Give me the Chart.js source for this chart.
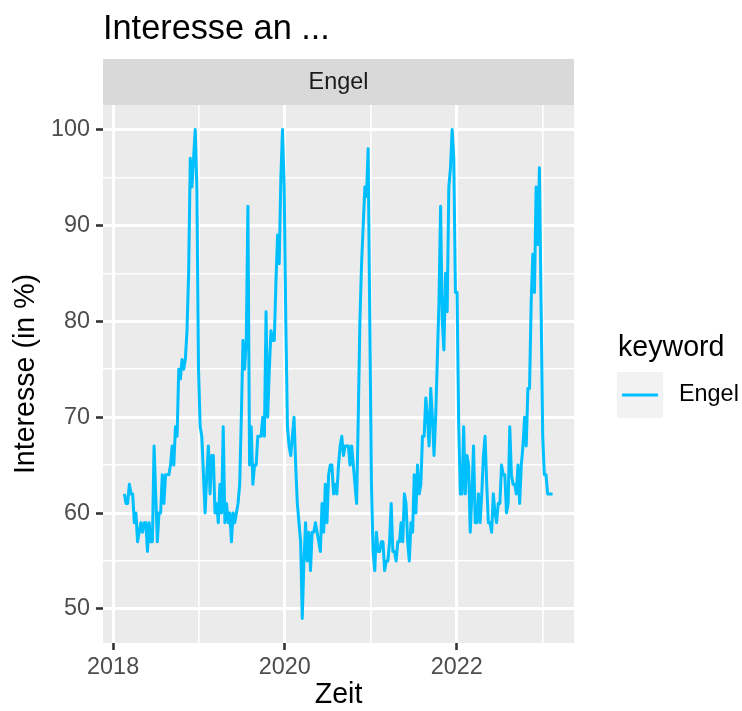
<!DOCTYPE html>
<html>
<head>
<meta charset="utf-8">
<title>Interesse an ...</title>
<script src="https://cdn.jsdelivr.net/npm/chart.js@4.4.0/dist/chart.umd.min.js"></script>
<style>
  html, body { margin: 0; padding: 0; background: #ffffff; }
  canvas { display: block; }
</style>
</head>
<body>
<canvas id="trend-chart" width="742" height="711"></canvas>
<script>
// ------------------------------------------------------
// @Data
// ------------------------------------------------------

const KEYWORD = 'Engel';
const START_DATE = '2018-02-18'; // first weekly value, one value per week after that

const INTEREST = [
  62, 61, 61, 63, 62, 62, 59, 60, 57, 58,
  59, 58, 59, 59, 56, 59, 57, 57, 67, 62,
  57, 60, 60, 64, 61, 64, 64, 64, 65, 67,
  65, 69, 68, 75, 74, 76, 75, 76, 79, 85,
  97, 94, 97, 100, 94, 75, 69, 68, 64, 60,
  64, 67, 62, 66, 66, 60, 61, 59, 63, 60,
  69, 59, 61, 59, 60, 57, 60, 59, 60, 61,
  63, 70, 78, 75, 78, 92, 65, 69, 63, 65,
  65, 68, 68, 68, 70, 68, 81, 70, 75, 79,
  78, 78, 84, 89, 86, 95, 100, 94, 80, 69,
  67, 66, 68, 70, 65, 61, 59, 57, 49, 55,
  59, 55, 58, 54, 58, 58, 59, 58, 57, 56,
  61, 58, 63, 59, 64, 65, 65, 62, 63, 62,
  65, 67, 68, 66, 67, 67, 67, 65, 67, 65,
  63, 61, 70, 80, 86, 90, 94, 93, 98, 80,
  63, 56, 54, 58, 56, 56, 57, 57, 54, 55,
  55, 57, 61, 56, 56, 55, 57, 57, 59, 57,
  62, 61, 57, 55, 59, 58, 64, 60, 65, 62,
  63, 68, 68, 72, 70, 67, 73, 70, 66, 70,
  76, 82, 92, 80, 77, 85, 81, 94, 96, 100,
  97, 83, 83, 69, 62, 62, 69, 62, 66, 65,
  58, 62, 67, 59, 59, 62, 59, 62, 66, 68,
  63, 59, 59, 58, 62, 60, 59, 61, 61, 65,
  64, 64, 60, 61, 69, 64, 63, 63, 62, 65,
  61, 65, 67, 70, 67, 73, 73, 82, 87, 83,
  94, 88, 96, 82, 68, 64, 64, 62, 62, 62,
  62,
];

const YEAR_TICKS = [2018, 2019, 2020, 2021, 2022, 2023];
const YEAR_LABELS = ['2018', '', '2020', '', '2022', ''];
const VALUE_TICKS = [50, 55, 60, 65, 70, 75, 80, 85, 90, 95, 100];
const VALUE_LABELS = ['50', '', '60', '', '70', '', '80', '', '90', '', '100'];

// ------------------------------------------------------
// @Helpers
// ------------------------------------------------------

const DAY = 86400000;
const FONT = "'Liberation Sans', Arial, Helvetica, sans-serif";
const LINE_COLOR = '#00BFFF';

const dayOf = (iso) => Date.parse(iso + 'T00:00:00Z') / DAY;
const yearStart = (year) => Date.UTC(year, 0, 1) / DAY;

const firstDay = dayOf(START_DATE);
const points = INTEREST.map((v, i) => ({ x: firstDay + 7 * i, y: v }));

// ggplot style 5% expansion on both scales
const lastDay = points[points.length - 1].x;
const xPad = (lastDay - firstDay) * 0.05;
const yLo = Math.min(...INTEREST);
const yHi = Math.max(...INTEREST);
const yPad = (yHi - yLo) * 0.05;

const isMajor = (labels, ctx) => ctx.tick && labels[ctx.index] !== '';

// ------------------------------------------------------
// @Panel, strip, title and legend
// ------------------------------------------------------

const ggFrame = {
  id: 'ggFrame',
  beforeDraw(chart) {
    const { ctx, chartArea: a } = chart;
    ctx.save();

    // panel background
    ctx.fillStyle = '#EBEBEB';
    ctx.fillRect(a.left, a.top, a.right - a.left, a.bottom - a.top);

    // facet strip
    ctx.fillStyle = '#D9D9D9';
    ctx.fillRect(a.left, 59, a.right - a.left, a.top - 59);
    ctx.fillStyle = '#1A1A1A';
    ctx.font = '23.4px ' + FONT;
    ctx.textAlign = 'center';
    ctx.textBaseline = 'middle';
    ctx.fillText(KEYWORD, (a.left + a.right) / 2, 82.5);

    // plot title
    ctx.fillStyle = '#000000';
    ctx.font = '34.3px ' + FONT;
    ctx.textAlign = 'left';
    ctx.textBaseline = 'alphabetic';
    ctx.fillText('Interesse an ...', a.left, 39);

    ctx.restore();
  },
  afterDraw(chart) {
    const { ctx } = chart;
    ctx.save();

    ctx.fillStyle = '#000000';
    ctx.font = '28.6px ' + FONT;
    ctx.textAlign = 'left';
    ctx.textBaseline = 'alphabetic';
    ctx.fillText('keyword', 618, 356);

    ctx.fillStyle = '#F2F2F2';
    ctx.fillRect(617, 372, 46, 46);

    ctx.strokeStyle = LINE_COLOR;
    ctx.lineWidth = 3;
    ctx.beginPath();
    ctx.moveTo(622, 395);
    ctx.lineTo(658, 395);
    ctx.stroke();

    ctx.fillStyle = '#000000';
    ctx.font = '23.4px ' + FONT;
    ctx.textBaseline = 'middle';
    ctx.fillText(KEYWORD, 679, 395);

    ctx.restore();
  },
};

// ------------------------------------------------------
// @Line Chart
// ------------------------------------------------------

const trendBox = document.getElementById('trend-chart');

if (trendBox) {
  const trendCtx = trendBox.getContext('2d');

  new Chart(trendCtx, {
    type: 'line',
    data: {
      datasets: [{
        label            : KEYWORD,
        data             : points,
        borderColor      : LINE_COLOR,
        borderWidth      : 3,
        borderJoinStyle  : 'round',
        pointRadius      : 0,
        pointHoverRadius : 0,
        tension          : 0,
        fill             : false,
      }],
    },

    options: {
      responsive: false,
      animation: false,
      events: [],
      layout: {
        padding: { top: 105, right: 168, bottom: 0, left: 0 },
      },
      plugins: {
        legend: { display: false },
        title: { display: false },
        tooltip: { enabled: false },
      },
      scales: {
        x: {
          type: 'linear',
          min: firstDay - xPad,
          max: lastDay + xPad,
          afterBuildTicks: (scale) => {
            scale.ticks = YEAR_TICKS.map((y) => ({ value: yearStart(y) }));
          },
          afterFit: (scale) => { scale.height = 68; },
          border: { display: false },
          grid: {
            color     : '#FFFFFF',
            lineWidth : (ctx) => (isMajor(YEAR_LABELS, ctx) ? 3 : 1.6),
            tickColor : (ctx) => (isMajor(YEAR_LABELS, ctx) ? '#333333' : 'rgba(0,0,0,0)'),
            tickWidth : 2.6,
            tickLength: 7,
          },
          ticks: {
            autoSkip: false,
            maxRotation: 0,
            padding: 4,
            color: '#4D4D4D',
            font: { family: FONT, size: 23.4 },
            callback: (value, index) => YEAR_LABELS[index],
          },
          title: {
            display: true,
            text: 'Zeit',
            color: '#000000',
            font: { family: FONT, size: 28.6, lineHeight: 1.1 },
            padding: 0,
          },
        },
        y: {
          type: 'linear',
          min: yLo - yPad,
          max: yHi + yPad,
          afterBuildTicks: (scale) => {
            scale.ticks = VALUE_TICKS.map((v) => ({ value: v }));
          },
          afterFit: (scale) => { scale.width = 103; },
          border: { display: false },
          grid: {
            color     : '#FFFFFF',
            lineWidth : (ctx) => (isMajor(VALUE_LABELS, ctx) ? 3 : 1.6),
            tickColor : (ctx) => (isMajor(VALUE_LABELS, ctx) ? '#333333' : 'rgba(0,0,0,0)'),
            tickWidth : 2.6,
            tickLength: 7,
          },
          ticks: {
            autoSkip: false,
            padding: 6,
            color: '#4D4D4D',
            font: { family: FONT, size: 23.4 },
            callback: (value, index) => VALUE_LABELS[index],
          },
          title: {
            display: true,
            text: 'Interesse (in %)',
            color: '#000000',
            font: { family: FONT, size: 28.6 },
            padding: { top: 9, bottom: 0 },
          },
        },
      },
    },
    plugins: [ggFrame],
  });
}
</script>
</body>
</html>
